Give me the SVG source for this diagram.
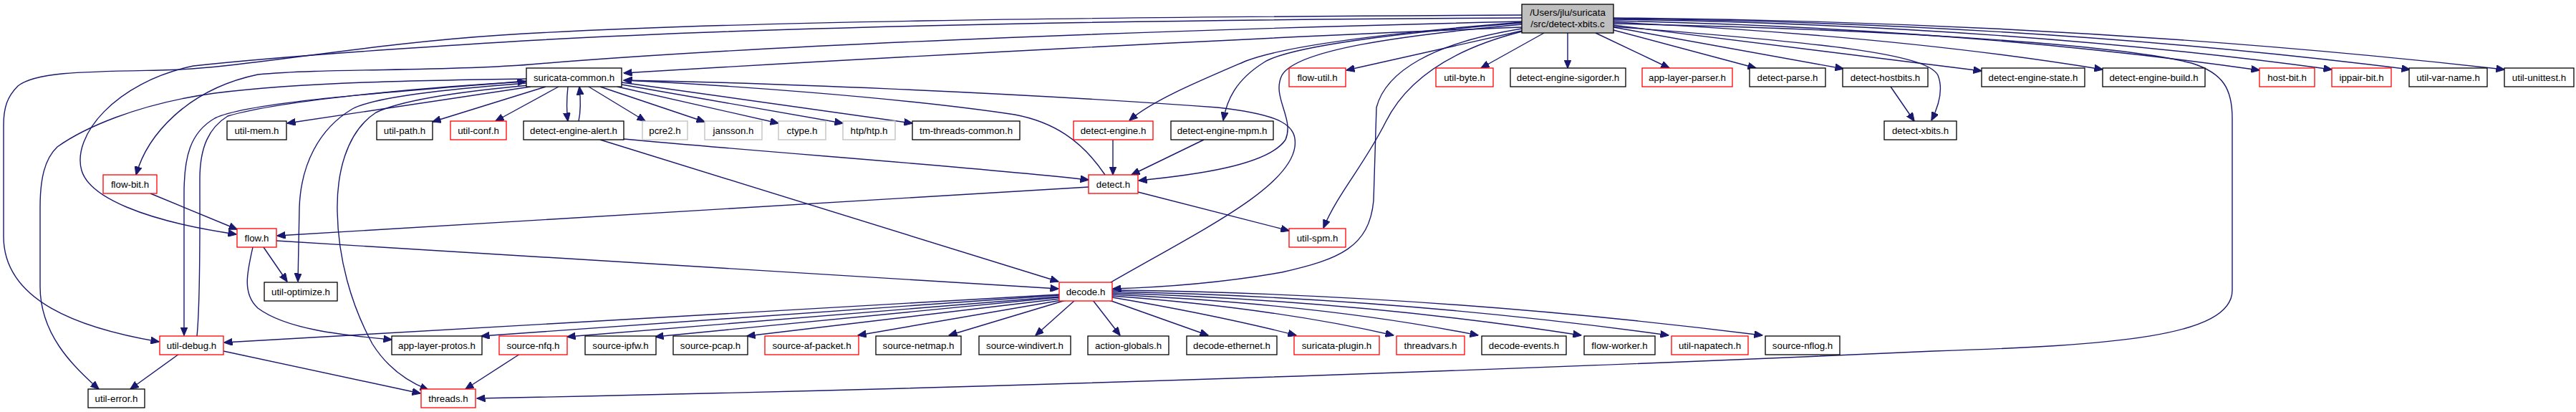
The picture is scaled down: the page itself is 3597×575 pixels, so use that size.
<svg xmlns="http://www.w3.org/2000/svg" width="3597" height="575" viewBox="0 0 3597 575">
<style>
.n rect{fill:#fff;stroke:#000;stroke-width:1.3}
.n.r rect{stroke:#ff0000}
.n.g rect{stroke:#bfbfbf}
.n.root rect{fill:#bfbfbf}
.n text{font-family:"Liberation Sans",Arial,sans-serif;font-size:13.3px;fill:#000;text-anchor:middle}
.e path{fill:none;stroke:#191970;stroke-width:1.4;marker-end:url(#a)}
</style>
<defs>
<marker id="a" viewBox="0 0 12 10" refX="11.5" refY="5" markerWidth="12" markerHeight="10" markerUnits="userSpaceOnUse" orient="auto">
<path d="M0,0 L12,5 L0,10 z" fill="#191970" stroke="#191970" stroke-width="1"/>
</marker>
</defs>
<rect width="3597" height="575" fill="#fff"/>
<g id="edges" class="e">
<path d="M2125,43 L1880,98"/>
<path d="M2156,46 L2068,95"/>
<path d="M2189,46 L2189,95"/>
<path d="M2228,46 L2331,95"/>
<path d="M2253,42 L2452,95"/>
<path d="M2253,38 L2574,96"/>
<path d="M2253,35 L2767,99"/>
<path d="M2253,31 Q2650,50 2936,97"/>
<path d="M2253,29 Q2750,40 3155,98"/>
<path d="M2253,27 Q2800,35 3256,97"/>
<path d="M2253,26 Q2850,32 3365,97"/>
<path d="M2253,25 Q2900,30 3497,97"/>
<path d="M2253,37 C2550,60 2690,75 2706,105 C2714,125 2706,150 2697,168"/>
<path d="M2253,33 C2600,40 2950,60 3060,88 C3105,102 3117,125 3117,165 L3117,405 C3117,470 2950,482 2700,490 C2300,508 1500,540 666,556"/>
<path d="M2125,38 C1800,50 1200,82 871,102"/>
<path d="M2125,30 C1700,40 1100,60 740,90 C620,100 450,95 360,104 C260,125 205,190 190,244"/>
<path d="M2125,25 C1500,28 1000,40 700,59 C520,70 380,80 270,92 C160,115 100,190 114,238 C125,275 200,308 330,327"/>
<path d="M2125,21 C1500,24 1000,30 700,49 C500,62 330,97 223,98 C120,100 50,100 25,120 C10,135 5,150 5,175 L5,330 C5,420 110,458 222,477"/>
<path d="M2125,31 C1950,45 1800,62 1740,85 C1670,115 1610,140 1577,168"/>
<path d="M2125,32 C1950,46 1800,65 1765,87 C1725,112 1713,140 1708,168"/>
<path d="M2125,34 C1950,50 1810,70 1790,105 C1775,135 1808,165 1795,195 C1770,232 1660,245 1590,252"/>
<path d="M2125,40 C2000,60 1935,100 1922,150 L1918,280 C1912,345 1870,362 1790,380 C1700,396 1620,401 1554,403"/>
<path d="M2125,44 C2030,68 1965,110 1935,170 C1905,230 1868,270 1848,318"/>
<path d="M741,121 L401,172"/>
<path d="M762,121 L604,170"/>
<path d="M780,121 L692,169"/>
<path d="M793,121 C791,140 791,155 793,169"/>
<path d="M808,169 C811,155 811,140 809,121"/>
<path d="M822,121 L901,169"/>
<path d="M838,121 L984,170"/>
<path d="M862,121 L1087,172"/>
<path d="M868,118 L1177,172"/>
<path d="M868,115 L1274,172"/>
<path d="M735,110 C600,112 430,114 300,130 C190,145 115,180 80,205 C62,222 56,250 56,290 L56,400 C56,465 100,510 138,543"/>
<path d="M735,113 C600,125 350,140 300,165 C265,185 257,220 257,270 L257,468"/>
<path d="M275,469 C280,420 279,320 279,250 C279,205 292,178 318,162 C400,138 620,120 734,114"/>
<path d="M735,116 C620,125 525,135 492,152 C445,180 420,230 418,290 L416,393"/>
<path d="M738,119 C640,128 560,140 525,157 C482,185 470,245 471,295 C472,360 490,425 520,480 C542,515 570,533 598,544"/>
<path d="M871,194 C1100,215 1350,232 1520,251"/>
<path d="M838,195 L1478,393"/>
<path d="M1543,244 C1510,195 1470,170 1417,160 C1250,135 1000,118 871,112"/>
<path d="M1520,261 L387,329"/>
<path d="M1589,268 L1800,322"/>
<path d="M1554,195 L1554,244"/>
<path d="M1681,195 L1580,244"/>
<path d="M2640,121 L2673,169"/>
<path d="M210,270 L331,320"/>
<path d="M368,345 L401,393"/>
<path d="M353,345 C345,380 338,410 360,430 C400,460 480,468 547,474"/>
<path d="M386,336 L1478,403"/>
<path d="M1551,394 C1680,320 1800,262 1808,205 C1812,175 1790,160 1700,150 C1400,128 1050,115 871,112"/>
<path d="M1479,411 L313,478"/>
<path d="M1479,412 L672,469"/>
<path d="M1479,414 L792,470"/>
<path d="M1479,415 L915,470"/>
<path d="M1480,417 L1043,469"/>
<path d="M1482,419 L1198,468"/>
<path d="M1488,419 L1325,468"/>
<path d="M1501,419 L1446,468"/>
<path d="M1526,419 L1564,468"/>
<path d="M1549,419 L1687,468"/>
<path d="M1553,415 Q1700,440 1810,468"/>
<path d="M1553,413 Q1780,430 1946,468"/>
<path d="M1553,411 Q1850,425 2064,468"/>
<path d="M1553,409 Q1900,420 2208,468"/>
<path d="M1553,407 Q1950,415 2330,468"/>
<path d="M1553,405 Q2000,410 2461,468"/>
<path d="M250,494 L182,543"/>
<path d="M312,490 L587,549"/>
<path d="M726,494 L650,543"/>
</g>
<g id="node-root" class="n root"><rect x="2125" y="6" width="128" height="40"/><text x="2189" y="22">/Users/jlu/suricata</text><text x="2189" y="38">/src/detect-xbits.c</text></g>
<g id="node-suricata-common" class="n"><rect x="735" y="95" width="133" height="26"/><text x="801.5" y="112.6">suricata-common.h</text></g>
<g id="node-flow-util" class="n r"><rect x="1800" y="95" width="79" height="26"/><text x="1839.5" y="112.6">flow-util.h</text></g>
<g id="node-util-byte" class="n r"><rect x="2005" y="95" width="80" height="26"/><text x="2045" y="112.6">util-byte.h</text></g>
<g id="node-detect-engine-sigorder" class="n"><rect x="2109" y="95" width="161" height="26"/><text x="2189.5" y="112.6">detect-engine-sigorder.h</text></g>
<g id="node-app-layer-parser" class="n r"><rect x="2293" y="95" width="126" height="26"/><text x="2356" y="112.6">app-layer-parser.h</text></g>
<g id="node-detect-parse" class="n"><rect x="2443" y="95" width="106" height="26"/><text x="2496" y="112.6">detect-parse.h</text></g>
<g id="node-detect-hostbits" class="n"><rect x="2573" y="95" width="119" height="26"/><text x="2632.5" y="112.6">detect-hostbits.h</text></g>
<g id="node-detect-engine-state" class="n"><rect x="2767" y="95" width="144" height="26"/><text x="2839" y="112.6">detect-engine-state.h</text></g>
<g id="node-detect-engine-build" class="n"><rect x="2936" y="95" width="143" height="26"/><text x="3007.5" y="112.6">detect-engine-build.h</text></g>
<g id="node-host-bit" class="n r"><rect x="3155" y="95" width="77" height="26"/><text x="3193.5" y="112.6">host-bit.h</text></g>
<g id="node-ippair-bit" class="n r"><rect x="3256" y="95" width="83" height="26"/><text x="3297.5" y="112.6">ippair-bit.h</text></g>
<g id="node-util-var-name" class="n"><rect x="3364" y="95" width="109" height="26"/><text x="3418.5" y="112.6">util-var-name.h</text></g>
<g id="node-util-unittest" class="n"><rect x="3497" y="95" width="97" height="26"/><text x="3545.5" y="112.6">util-unittest.h</text></g>
<g id="node-util-mem" class="n"><rect x="317" y="169" width="83" height="26"/><text x="358.5" y="186.6">util-mem.h</text></g>
<g id="node-util-path" class="n"><rect x="526" y="169" width="78" height="26"/><text x="565" y="186.6">util-path.h</text></g>
<g id="node-util-conf" class="n r"><rect x="629" y="169" width="78" height="26"/><text x="668" y="186.6">util-conf.h</text></g>
<g id="node-detect-engine-alert" class="n"><rect x="731" y="169" width="140" height="26"/><text x="801" y="186.6">detect-engine-alert.h</text></g>
<g id="node-pcre2" class="n g"><rect x="897" y="169" width="63" height="26"/><text x="928.5" y="186.6">pcre2.h</text></g>
<g id="node-jansson" class="n g"><rect x="984" y="169" width="80" height="26"/><text x="1024" y="186.6">jansson.h</text></g>
<g id="node-ctype" class="n g"><rect x="1087" y="169" width="66" height="26"/><text x="1120" y="186.6">ctype.h</text></g>
<g id="node-htp" class="n g"><rect x="1177" y="169" width="73" height="26"/><text x="1213.5" y="186.6">htp/htp.h</text></g>
<g id="node-tm-threads-common" class="n"><rect x="1274" y="169" width="150" height="26"/><text x="1349" y="186.6">tm-threads-common.h</text></g>
<g id="node-detect-engine" class="n r"><rect x="1499" y="169" width="111" height="26"/><text x="1554.5" y="186.6">detect-engine.h</text></g>
<g id="node-detect-engine-mpm" class="n"><rect x="1635" y="169" width="143" height="26"/><text x="1706.5" y="186.6">detect-engine-mpm.h</text></g>
<g id="node-detect-xbits" class="n"><rect x="2631" y="169" width="101" height="26"/><text x="2681.5" y="186.6">detect-xbits.h</text></g>
<g id="node-flow-bit" class="n r"><rect x="144" y="244" width="75" height="26"/><text x="181.5" y="261.6">flow-bit.h</text></g>
<g id="node-detect" class="n r"><rect x="1520" y="244" width="69" height="26"/><text x="1554.5" y="261.6">detect.h</text></g>
<g id="node-flow" class="n r"><rect x="331" y="319" width="55" height="26"/><text x="358.5" y="336.6">flow.h</text></g>
<g id="node-util-spm" class="n r"><rect x="1800" y="319" width="79" height="26"/><text x="1839.5" y="336.6">util-spm.h</text></g>
<g id="node-util-optimize" class="n"><rect x="369" y="394" width="102" height="26"/><text x="420" y="411.6">util-optimize.h</text></g>
<g id="node-decode" class="n r"><rect x="1479" y="394" width="74" height="26"/><text x="1516" y="411.6">decode.h</text></g>
<g id="node-util-debug" class="n r"><rect x="223" y="469" width="89" height="26"/><text x="267.5" y="486.6">util-debug.h</text></g>
<g id="node-app-layer-protos" class="n"><rect x="547" y="469" width="126" height="26"/><text x="610" y="486.6">app-layer-protos.h</text></g>
<g id="node-source-nfq" class="n r"><rect x="697" y="469" width="95" height="26"/><text x="744.5" y="486.6">source-nfq.h</text></g>
<g id="node-source-ipfw" class="n"><rect x="817" y="469" width="99" height="26"/><text x="866.5" y="486.6">source-ipfw.h</text></g>
<g id="node-source-pcap" class="n"><rect x="940" y="469" width="104" height="26"/><text x="992" y="486.6">source-pcap.h</text></g>
<g id="node-source-af-packet" class="n r"><rect x="1068" y="469" width="131" height="26"/><text x="1133.5" y="486.6">source-af-packet.h</text></g>
<g id="node-source-netmap" class="n"><rect x="1223" y="469" width="119" height="26"/><text x="1282.5" y="486.6">source-netmap.h</text></g>
<g id="node-source-windivert" class="n"><rect x="1367" y="469" width="128" height="26"/><text x="1431" y="486.6">source-windivert.h</text></g>
<g id="node-action-globals" class="n"><rect x="1519" y="469" width="113" height="26"/><text x="1575.5" y="486.6">action-globals.h</text></g>
<g id="node-decode-ethernet" class="n"><rect x="1657" y="469" width="126" height="26"/><text x="1720" y="486.6">decode-ethernet.h</text></g>
<g id="node-suricata-plugin" class="n r"><rect x="1807" y="469" width="119" height="26"/><text x="1866.5" y="486.6">suricata-plugin.h</text></g>
<g id="node-threadvars" class="n r"><rect x="1950" y="469" width="95" height="26"/><text x="1997.5" y="486.6">threadvars.h</text></g>
<g id="node-decode-events" class="n"><rect x="2069" y="469" width="118" height="26"/><text x="2128" y="486.6">decode-events.h</text></g>
<g id="node-flow-worker" class="n"><rect x="2212" y="469" width="99" height="26"/><text x="2261.5" y="486.6">flow-worker.h</text></g>
<g id="node-util-napatech" class="n r"><rect x="2334" y="469" width="107" height="26"/><text x="2387.5" y="486.6">util-napatech.h</text></g>
<g id="node-source-nflog" class="n"><rect x="2465" y="469" width="104" height="26"/><text x="2517" y="486.6">source-nflog.h</text></g>
<g id="node-util-error" class="n"><rect x="123" y="543" width="79" height="26"/><text x="162.5" y="560.6">util-error.h</text></g>
<g id="node-threads" class="n r"><rect x="588" y="543" width="76" height="26"/><text x="626" y="560.6">threads.h</text></g>
</svg>
